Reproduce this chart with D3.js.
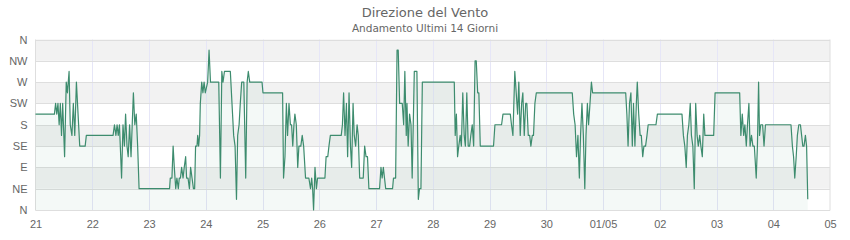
<!DOCTYPE html>
<html>
<head>
<meta charset="utf-8">
<script src="https://cdn.jsdelivr.net/npm/d3@7"></script>
<style>
  body { margin: 0; background: #fff; }
  svg { font-family: "DejaVu Sans", sans-serif; }
  .band-line { stroke: #dedede; stroke-width: 1; }
  .day-line { stroke: #e6e6f7; stroke-width: 1; }
  .tick text { fill: #666; font-size: 11px; }
</style>
</head>
<body>
<script>
// compass labels, bottom to top (degrees 0..360 step 45)
var dirLabels = ["N", "NE", "E", "SE", "S", "SW", "W", "NW", "N"];
var dayLabels = ["21", "22", "23", "24", "25", "26", "27", "28", "29", "30", "01/05", "02", "03", "04", "05"];

// hours since 21/04 00:00
var hours = [
  0, 8, 8.5, 9, 9.5, 10, 10.5, 11, 11.5, 12.3, 13, 13.5, 14.2, 14.7, 15.4, 16, 16.6, 17.3, 18, 18.7, 21, 21.5,
  32.8, 33.4, 34, 34.5, 35, 35.5, 36.4, 37, 37.6, 38.1, 38.7, 39.2, 39.8, 40.4, 40.9, 41.4, 42, 42.6, 43.2, 43.8,
  56.7, 57, 57.7, 58.2, 58.7, 59.3, 59.8, 60.4, 60.8, 61.3, 61.8, 62.4, 62.9, 63.5, 63.9, 64.5, 65.1, 65.6, 66.2, 66.8, 67.3, 67.7,
  68.3, 68.6, 69, 69.4, 69.7, 70.3, 70.8, 71.3, 71.8, 72.8, 73.4, 74, 77.5, 78.2, 78.8, 79.3, 79.9, 82.4, 83.1, 83.8, 84.4, 85,
  85.5, 86.1, 86.6, 87.2, 88.1, 88.9, 89.5, 90, 90.6, 95.8, 96.2,
  104.5, 104.9, 105.5, 106.1, 106.6, 107.2, 107.8, 108.3, 108.8, 109.3, 109.7, 110.3, 110.9, 111.4, 112.2, 112.8, 113.4, 114.2,
  115, 115.6, 116.3, 116.8, 117.2, 117.6, 118.2, 118.8, 119.3, 122.4, 122.9, 123.6, 124.1, 124.7,
  129.3, 129.8, 130.3, 130.9, 131.5, 132, 132.6, 133.2, 133.7, 134.3, 134.8, 135.4, 136, 136.5, 137.1, 137.7, 138.6, 139.2,
  139.8, 140.4, 141,
  145.5, 146.1, 146.6, 147.1, 147.6, 148.1, 151, 151.4, 152.3, 152.9, 153.4, 154, 155.1, 155.7, 156.2, 156.8, 157.1, 157.6,
  158.2, 158.8, 159.3, 160.2, 161.3, 161.9, 162.4, 163, 163.6,
  177.1, 177.5, 178, 178.5, 179, 179.6, 180.1, 180.7, 181.3, 181.8, 182.4, 183, 183.6, 184.1, 184.7, 185.3, 185.9, 186.4, 187, 187.5, 188.1,
  193.7, 194.3, 197.1, 197.7, 200.8, 201.3, 201.9, 202.7, 203.3, 203.9, 204.4, 205, 205.6, 206.1, 206.7, 207.3, 207.8, 208.4, 209,
  209.5, 210.1, 210.6, 211.2, 211.8,
  227, 227.6, 228.2, 228.8, 229.4, 230, 230.5, 231.1, 231.7, 232.3, 232.8, 233.4, 233.9, 234.5, 235.1, 235.6,
  249.6, 250.1, 250.6, 251.2, 251.8, 252.4, 252.9, 253.5, 254.1, 254.5, 255.1, 255.7, 256.2, 256.8, 257.3, 258, 258.6, 259.1,
  262.4, 263,
  273.4, 274, 274.6, 275.2, 275.7, 276.3, 276.9, 277.4, 278, 278.6, 279.2, 279.8, 280.3, 280.9, 281.4, 282, 282.6, 283.1,
  286.8, 287.4,
  297.8, 298.3, 298.9, 299.5, 300, 300.6, 301.1, 301.7, 302.2, 302.8, 303.4, 304, 304.8, 305.3, 305.8, 306.2, 306.7, 307.5,
  308.1, 308.7, 319.5, 320.1, 320.6, 321.1, 321.7, 322.2, 322.8, 323.5, 324, 324.5, 325, 325.6, 326.1, 326.6
];

// wind direction in degrees
var degrees = [
  202.5, 202.5, 225, 202.5, 225, 180, 225, 157.5, 225, 112.5, 270, 247.5, 292.5, 180, 157.5, 225, 157.5, 270, 202.5, 135, 135, 157.5,
  157.5, 180, 157.5, 180, 157.5, 180, 67.5, 180, 135, 202.5, 135, 112.5, 180, 112.5, 180, 247.5, 180, 202.5, 135, 45,
  45, 67.5, 67.5, 135, 90, 45, 67.5, 45, 67.5, 67.5, 90, 67.5, 90, 112.5, 67.5, 67.5, 45, 90, 67.5, 45, 45, 135,
  135, 157.5, 135, 157.5, 225, 270, 247.5, 270, 247.5, 270, 337.5, 270, 270, 67.5, 292.5, 270, 292.5, 292.5, 225, 157.5, 135, 22.5,
  157.5, 180, 225, 270, 270, 67.5, 270, 292.5, 270, 270, 247.5,
  247.5, 67.5, 112.5, 225, 157.5, 225, 180, 180, 135, 180, 202.5, 180, 90, 135, 135, 157.5, 135, 67.5,
  67.5, 67.5, 45, 67.5, 45, 0, 90, 45, 67.5, 67.5, 112.5, 112.5, 135, 157.5,
  157.5, 180, 247.5, 157.5, 225, 112.5, 247.5, 135, 90, 225, 157.5, 135, 180, 157.5, 67.5, 67.5, 67.5, 135,
  112.5, 112.5, 45,
  45, 90, 67.5, 90, 67.5, 45, 45, 67.5, 67.5, 337.5, 337.5, 225, 225, 180, 292.5, 157.5, 225, 135,
  202.5, 180, 67.5, 292.5, 292.5, 22.5, 45, 45, 270,
  270, 157.5, 202.5, 112.5, 135, 157.5, 135, 247.5, 157.5, 135, 247.5, 135, 135, 157.5, 180, 135, 315, 315, 247.5, 247.5, 135,
  135, 180, 180, 202.5, 202.5, 180, 157.5, 292.5, 247.5, 202.5, 270, 157.5, 225, 247.5, 157.5, 225, 225, 157.5, 157.5,
  135, 157.5, 157.5, 225, 247.5,
  247.5, 202.5, 180, 112.5, 157.5, 67.5, 157.5, 225, 157.5, 45, 157.5, 225, 180, 225, 270, 247.5,
  247.5, 202.5, 135, 225, 247.5, 135, 225, 135, 225, 270, 202.5, 157.5, 157.5, 112.5, 135, 135, 157.5, 180,
  180, 202.5,
  202.5, 157.5, 135, 90, 157.5, 180, 225, 157.5, 135, 45, 225, 157.5, 135, 157.5, 135, 112.5, 202.5, 157.5,
  157.5, 247.5,
  247.5, 157.5, 202.5, 157.5, 180, 135, 180, 225, 135, 157.5, 135, 135, 67.5, 135, 270, 157.5, 180, 180,
  135, 180, 180, 135, 112.5, 67.5, 112.5, 157.5, 180, 180, 157.5, 135, 135, 157.5, 135, 22.5
];

var width = 850, height = 240;
var plotLeft = 35.5, plotRight = 830, plotTop = 39.5, plotBottom = 210;

var start = new Date(2024, 3, 21);
var end = d3.timeDay.offset(start, 14);

var data = hours.map(function(h, i) {
  return { t: new Date(start.getTime() + h * 3600e3), v: degrees[i] };
});

var svg = d3.select("body").append("svg")
    .attr("width", width)
    .attr("height", height);

var x = d3.scaleTime().domain([start, end]).range([plotLeft, plotRight]);
var y = d3.scaleLinear().domain([0, 360]).range([plotBottom, plotTop]);

var yTicks = d3.range(0, 361, 45);
var dayTicks = d3.timeDay.range(start, d3.timeDay.offset(end, 1));

// alternating bands
svg.append("g").selectAll("rect")
    .data(yTicks.slice(0, -1))
    .enter().append("rect")
    .attr("x", plotLeft)
    .attr("width", plotRight - plotLeft)
    .attr("y", function(d) { return y(d + 45); })
    .attr("height", function(d) { return y(d) - y(d + 45); })
    .attr("fill", function(d, i) { return i % 2 ? "#f2f2f2" : "#ffffff"; });

// day grid lines
svg.append("g").selectAll("line")
    .data(dayTicks.slice(1, -1))
    .enter().append("line")
    .attr("class", "day-line")
    .attr("x1", function(d) { return Math.round(x(d)) + 0.5; })
    .attr("x2", function(d) { return Math.round(x(d)) + 0.5; })
    .attr("y1", plotTop)
    .attr("y2", plotBottom);

// direction grid lines
svg.append("g").selectAll("line")
    .data(yTicks)
    .enter().append("line")
    .attr("class", "band-line")
    .attr("x1", plotLeft)
    .attr("x2", plotRight)
    .attr("y1", function(d) { return Math.round(y(d)) + 0.5; })
    .attr("y2", function(d) { return Math.round(y(d)) + 0.5; });

// plot border sides
svg.append("line").attr("class", "band-line")
    .attr("x1", plotLeft).attr("x2", plotLeft).attr("y1", plotTop).attr("y2", plotBottom + 0.5);
svg.append("line").attr("class", "band-line")
    .attr("x1", plotRight).attr("x2", plotRight).attr("y1", plotTop).attr("y2", plotBottom + 0.5);

var area = d3.area()
    .x(function(d) { return x(d.t); })
    .y0(y(0))
    .y1(function(d) { return y(d.v); });

var line = d3.line()
    .x(function(d) { return x(d.t); })
    .y(function(d) { return y(d.v); });

svg.append("path")
    .datum(data)
    .attr("d", area)
    .attr("fill", "#3d8c6e")
    .attr("fill-opacity", 0.055);

svg.append("path")
    .datum(data)
    .attr("d", line)
    .attr("fill", "none")
    .attr("stroke", "#3d8c6e")
    .attr("stroke-width", 1.2)
    .attr("stroke-linejoin", "round");

// axes
var yAxis = d3.axisLeft(y)
    .tickValues(yTicks)
    .tickSize(0)
    .tickPadding(8)
    .tickFormat(function(d, i) { return dirLabels[i]; });

svg.append("g")
    .attr("transform", "translate(" + plotLeft + ",0)")
    .call(yAxis)
    .call(function(g) { g.select(".domain").remove(); });

var xAxis = d3.axisBottom(x)
    .tickValues(dayTicks)
    .tickSize(0)
    .tickPadding(10)
    .tickFormat(function(d, i) { return dayLabels[i]; });

svg.append("g")
    .attr("transform", "translate(0," + plotBottom + ")")
    .call(xAxis)
    .call(function(g) { g.select(".domain").remove(); });

// titles
svg.append("text")
    .attr("x", width / 2)
    .attr("y", 17)
    .attr("text-anchor", "middle")
    .attr("fill", "#666")
    .style("font-size", "13px")
    .text("Direzione del Vento");

svg.append("text")
    .attr("x", width / 2)
    .attr("y", 32)
    .attr("text-anchor", "middle")
    .attr("fill", "#666")
    .style("font-size", "10.5px")
    .text("Andamento Ultimi 14 Giorni");
</script>
</body>
</html>
